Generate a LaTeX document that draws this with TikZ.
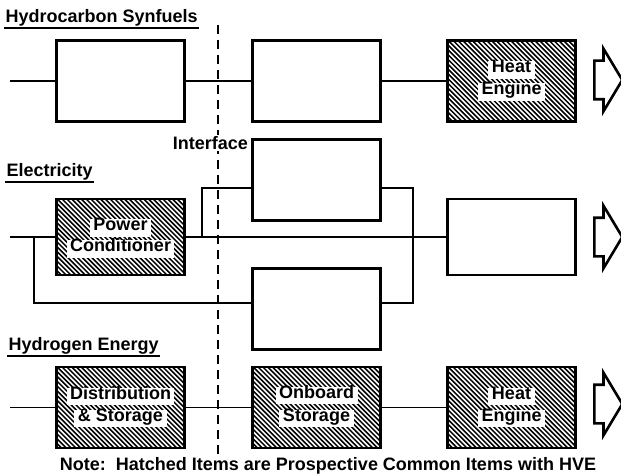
\documentclass[tikz,border=0pt]{standalone}
\usepackage{fontspec}
\setmainfont{Liberation Sans}
\usetikzlibrary{shapes.arrows}

\begin{document}
\begin{tikzpicture}[x=1pt, y=-1pt,
  font=\fontsize{18}{21}\selectfont\bfseries,
  blk/.style={rectangle, draw=black, line width=2.6pt, minimum width=128pt,
    minimum height=81pt, inner sep=0pt},
  hblk/.style={blk, path picture={
      \foreach \k in {-100,-95.2,...,140}
        \draw[line width=1.5pt] ([xshift=\k pt]path picture bounding box.north west) -- ++(100pt,-100pt);
    }},
  htxt/.style={fill=white, inner xsep=3.5pt, inner ysep=4pt, text height=0.72em, text depth=0.2em},
  title/.style={anchor=west, inner sep=1.5pt},
  uline/.style={line width=1.8pt},
  conn/.style={line width=1.7pt},
  iface/.style={line width=2pt, dash pattern=on 9pt off 6pt},
  outarr/.style={single arrow, draw=black, line width=2.6pt, inner xsep=0pt,
    inner ysep=18pt, single arrow head extend=12pt, single arrow tip angle=118,
    minimum height=28pt, anchor=tail}
]
\useasboundingbox (0,0) rectangle (621,476);
% titles
\node[title] (tsyn) at (4,18) {Hydrocarbon Synfuels};
\node[title] (telec) at (5,172) {Electricity};
\node[title] (thyd) at (7,346) {Hydrogen Energy};
\draw[uline] (tsyn.south west) -- (tsyn.south east);
\draw[uline] (telec.south west) -- (telec.south east);
\draw[uline] (thyd.south west) -- (thyd.south east);
% boxes
\node[blk] (syn1) at (120.5,81) {};
\node[blk] (syn2) at (316.5,81) {};
\node[hblk] (he1) at (511.5,81) {};
\node[hblk, minimum height=76pt] (pc) at (120.5,237) {};
\node[blk] (eltop) at (316.5,180) {};
\node[blk] (elbot) at (316.5,309) {};
\node[blk, minimum height=76pt] (elout) at (511.5,237) {};
\node[hblk] (ds) at (120.5,407.5) {};
\node[hblk] (ob) at (316.5,407.5) {};
\node[hblk] (he3) at (511.5,407.5) {};
% texts on hatching
\node[htxt] at ([yshift=11pt]he1.center) {Heat};
\node[htxt] at ([yshift=-11pt]he1.center) {Engine};
\node[htxt] at ([yshift=9pt]pc.center) {Power};
\node[htxt] at ([yshift=-12pt]pc.center) {Conditioner};
\node[htxt] at ([yshift=11pt]ds.center) {Distribution};
\node[htxt] at ([yshift=-11pt]ds.center) {\& Storage};
\node[htxt] at ([yshift=12pt]ob.center) {Onboard};
\node[htxt] at ([yshift=-11pt]ob.center) {Storage};
\node[htxt] at ([yshift=11pt]he3.center) {Heat};
\node[htxt] at ([yshift=-11pt]he3.center) {Engine};
% outputs
\node[outarr] (out1) at (593,80) {};
\node[outarr] (out2) at (593,237) {};
\node[outarr] (out3) at (593,404) {};
% connectors
\coordinate (in1) at (10,81);
\coordinate (in2) at (10,237);
\coordinate (in3) at (10,407.5);
\coordinate (jl) at (34,237);
\coordinate (jm) at (202,237);
\coordinate (jr) at (413,237);
\draw[conn] (in1) -- (syn1);
\draw[conn] (syn1) -- (syn2);
\draw[conn] (syn2) -- (he1);
\draw[conn] (in2) -- (pc);
\draw[conn] (pc) -- (elout);
\draw[conn] (jm) |- (eltop.west |- 0,188);
\draw[conn] (jl) |- (elbot.west |- 0,303);
\draw[conn] (eltop.east |- 0,188) -| (jr) |- (elbot.east |- 0,303);
\draw[conn] (in3) -- (ds);
\draw[conn] (ds) -- (ob);
\draw[conn] (ob) -- (he3);
% interface
\coordinate (iftop) at (218,25);
\coordinate (ifbot) at (218,456);
\draw[iface] (iftop) -- (ifbot);
\node[fill=white, inner sep=1pt, anchor=east] (iflbl) at (249,143) {Interface};
\node (note) at (328,466) {Note:\ \ Hatched Items are Prospective Common Items with HVE};
\end{tikzpicture}
\end{document}
